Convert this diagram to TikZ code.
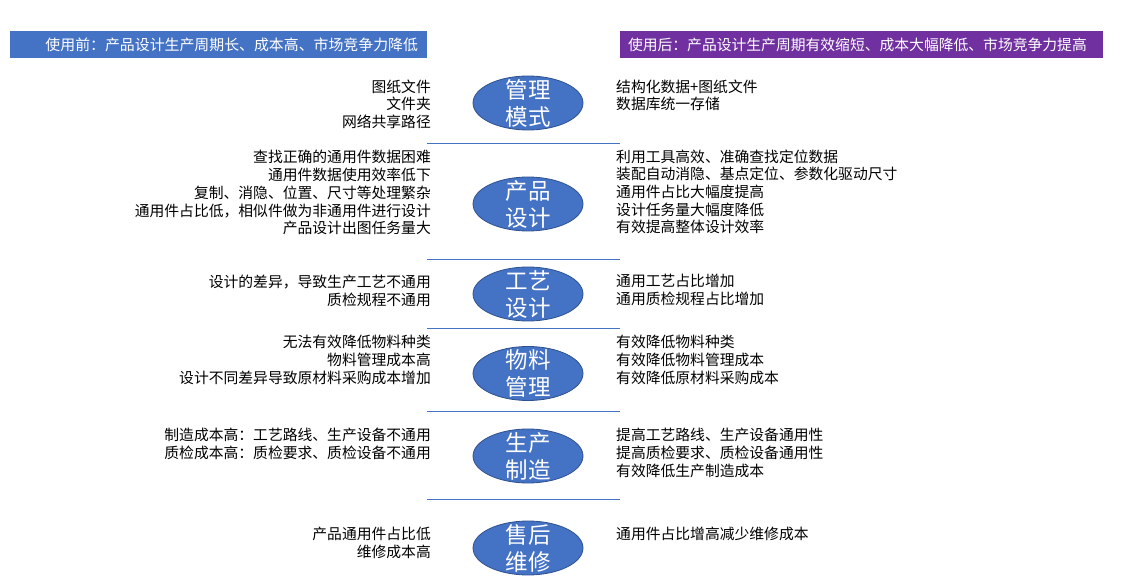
\documentclass[tikz,border=0pt]{standalone}
\usepackage{fontspec}
\newfontfamily\cjk{Noto Sans CJK SC}
\usetikzlibrary{shapes.geometric}
\definecolor{stageblue}{HTML}{4472C4}
\definecolor{stageedge}{HTML}{2F528F}
\definecolor{afterpurple}{HTML}{7030A0}

\begin{document}
\begin{tikzpicture}[x=1pt,y=-1pt,
    stage/.style={ellipse, draw=stageedge, fill=stageblue, line width=0.8pt, minimum width=110pt, minimum height=54pt, inner sep=0pt},
    stagetext/.style={align=center, inner sep=0pt, text=white, font=\cjk\fontsize{22.5}{27}\selectfont},
    before/.style={anchor=north east, align=right, inner sep=0pt, font=\cjk\fontsize{14.8}{17.7}\selectfont},
    after/.style={anchor=north west, align=left, inner sep=0pt, font=\cjk\fontsize{14.8}{17.7}\selectfont},
    banner/.style={minimum height=27pt, inner sep=0pt, text=white},
    divider/.style={stageblue, line width=0.8pt}]
  \useasboundingbox (0,0) rectangle (1127,577);

  % banners
  \node [banner, fill=stageblue, minimum width=417pt, text width=399pt, align=right, font=\cjk\fontsize{14.9}{17}\selectfont] (usebefore) at (218.5,44.5) {使用前：产品设计生产周期长、成本高、市场竞争力降低};
  \node [banner, fill=afterpurple, minimum width=483pt, text width=467pt, align=left, font=\cjk\fontsize{14.8}{17}\selectfont] (useafter) at (861.5,44.5) {使用后：产品设计生产周期有效缩短、成本大幅降低、市场竞争力提高};

  % stages
  \node [stage] (mgmt) at (528,103) {};
  \node [stagetext] (mgmtlbl) at (mgmt.center) {管理\\模式};
  \node [stage] (design) at (528,204) {};
  \node [stagetext] (designlbl) at (design.center) {产品\\设计};
  \node [stage] (process) at (528,294) {};
  \node [stagetext] (processlbl) at (process.center) {工艺\\设计};
  \node [stage] (material) at (528,373.5) {};
  \node [stagetext] (materiallbl) at (material.center) {物料\\管理};
  \node [stage] (produce) at (528,456) {};
  \node [stagetext] (producelbl) at (produce.center) {生产\\制造};
  \node [stage] (service) at (528,548) {};
  \node [stagetext] (servicelbl) at (service.center) {售后\\维修};

  % before
  \node [before] (mgmtold) at (431,79.3) {图纸文件\\文件夹\\网络共享路径};
  \node [before] (designold) at (431,150.3) {查找正确的通用件数据困难\\通用件数据使用效率低下\\复制、消隐、位置、尺寸等处理繁杂\\通用件占比低，相似件做为非通用件进行设计\\产品设计出图任务量大};
  \node [before] (processold) at (431,275.3) {设计的差异，导致生产工艺不通用\\质检规程不通用};
  \node [before] (materialold) at (431,335.3) {无法有效降低物料种类\\物料管理成本高\\设计不同差异导致原材料采购成本增加};
  \node [before] (produceold) at (431,428.3) {制造成本高：工艺路线、生产设备不通用\\质检成本高：质检要求、质检设备不通用};
  \node [before] (serviceold) at (431,527.3) {产品通用件占比低\\维修成本高};

  % after
  \node [after] (mgmtnew) at (616,79.3) {结构化数据+图纸文件\\数据库统一存储};
  \node [after] (designnew) at (616,149.3) {利用工具高效、准确查找定位数据\\装配自动消隐、基点定位、参数化驱动尺寸\\通用件占比大幅度提高\\设计任务量大幅度降低\\有效提高整体设计效率};
  \node [after] (processnew) at (616,274.3) {通用工艺占比增加\\通用质检规程占比增加};
  \node [after] (materialnew) at (616,335.3) {有效降低物料种类\\有效降低物料管理成本\\有效降低原材料采购成本};
  \node [after] (producenew) at (616,428.3) {提高工艺路线、生产设备通用性\\提高质检要求、质检设备通用性\\有效降低生产制造成本};
  \node [after] (servicenew) at (616,527.3) {通用件占比增高减少维修成本};

  % dividers
  \draw [divider] (427,143) -- (620,143);
  \draw [divider] (427,259) -- (620,259);
  \draw [divider] (427,328) -- (620,328);
  \draw [divider] (427,411) -- (620,411);
  \draw [divider] (427,499) -- (620,499);
\end{tikzpicture}
\end{document}
